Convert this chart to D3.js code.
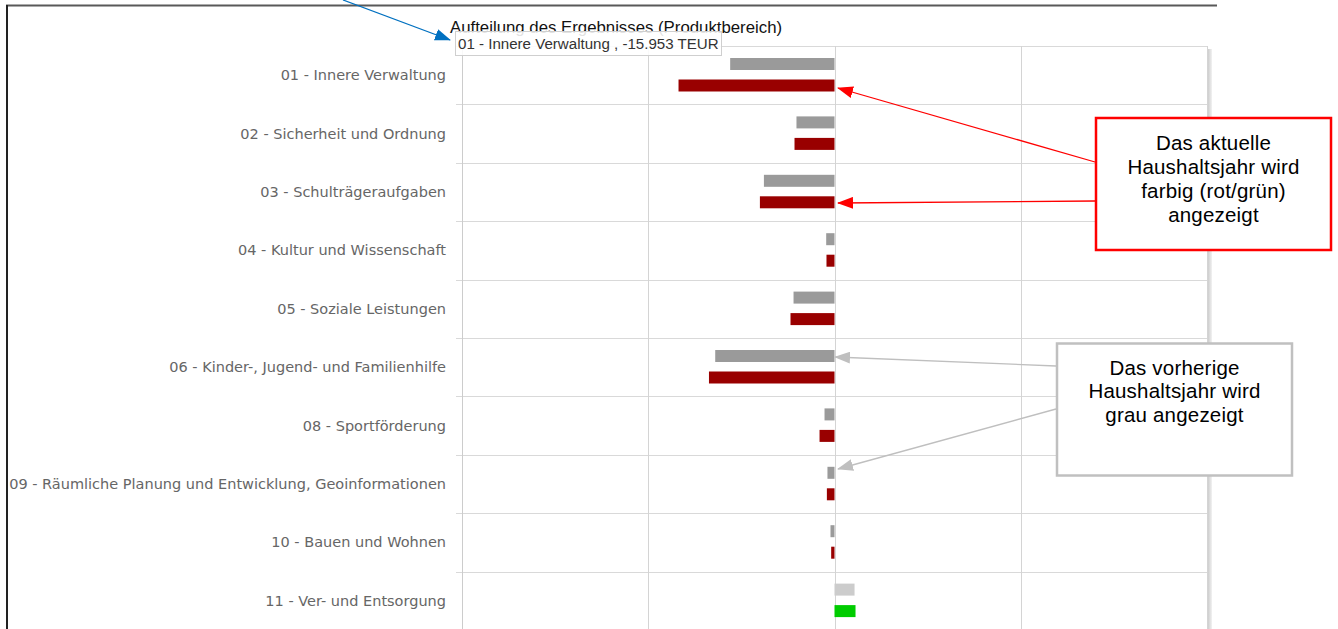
<!DOCTYPE html>
<html>
<head>
<meta charset="utf-8">
<script src="https://cdn.jsdelivr.net/npm/d3@7"></script>
<style>
    body { margin: 0; background: #fff; }
    svg { display: block; }
</style>
</head>
<body>
<div id="chart"></div>
<script>
//categories and values (EUR)
var categories = [
    "01 - Innere Verwaltung",
    "02 - Sicherheit und Ordnung",
    "03 - Schulträgeraufgaben",
    "04 - Kultur und Wissenschaft",
    "05 - Soziale Leistungen",
    "06 - Kinder-, Jugend- und Familienhilfe",
    "08 - Sportförderung",
    "09 - Räumliche Planung und Entwicklung, Geoinformationen",
    "10 - Bauen und Wohnen",
    "11 - Ver- und Entsorgung"
];
var previousYear = [-10670, -3890, -7220, -850, -4190, -12200, -1020, -720, -410, 2050];
var currentYear = [-15953, -4090, -7630, -820, -4500, -12840, -1530, -780, -340, 2150];
var xDomain = [-38100, 38100];
var gridValues = [-38100, -19050, 0, 19050, 38100];

var title = "Aufteilung des Ergebnisses (Produktbereich)";
var tooltipText = "01 - Innere Verwaltung , -15.953 TEUR";
var noteCurrent = ["Das aktuelle", "Haushaltsjahr wird", "farbig (rot/grün)", "angezeigt"];
var notePrevious = ["Das vorherige", "Haushaltsjahr wird", "grau angezeigt"];

var width = 1338, height = 629;
var plot = { left: 462, right: 1207, top: 46 };
var bandStep = 58.4;
var labelFont = "'DejaVu Sans', sans-serif";
var noteFont = "'Liberation Sans', Arial, sans-serif";

var rows = categories.map(function (c, i) {
    return { name: c, prev: previousYear[i], curr: currentYear[i] };
});

var x = d3.scaleLinear().domain(xDomain).range([plot.left, plot.right]);
var y = d3.scaleBand()
    .domain(categories)
    .range([plot.top, plot.top + bandStep * categories.length]);
var plotBottom = y.range()[1];

var svg = d3.select("#chart").append("svg")
    .attr("width", width)
    .attr("height", height);

var defs = svg.append("defs");
function arrowMarker(id, color) {
    defs.append("marker")
        .attr("id", id)
        .attr("viewBox", "0 0 16 12")
        .attr("refX", 15)
        .attr("refY", 6)
        .attr("markerUnits", "userSpaceOnUse")
        .attr("markerWidth", 16)
        .attr("markerHeight", 12)
        .attr("orient", "auto")
        .append("path")
        .attr("d", "M0,0L16,6L0,12Z")
        .attr("fill", color);
}
arrowMarker("arrow-blue", "#0070c0");
arrowMarker("arrow-red", "#ff0000");
arrowMarker("arrow-gray", "#bfbfbf");

var shadow = defs.append("linearGradient").attr("id", "shadow");
shadow.append("stop").attr("offset", "0%").attr("stop-color", "#c4c4c4");
shadow.append("stop").attr("offset", "100%").attr("stop-color", "#f2f2f2");

//outer frame of the screenshot
svg.append("line")
    .attr("x1", 6).attr("x2", 1217).attr("y1", 5.5).attr("y2", 5.5)
    .attr("stroke", "#595959").attr("stroke-width", 2);
svg.append("line")
    .attr("x1", 7).attr("x2", 7).attr("y1", 5).attr("y2", height)
    .attr("stroke", "#222").attr("stroke-width", 2);

//plot shadow and border
svg.append("rect")
    .attr("x", plot.right).attr("y", plot.top + 3)
    .attr("width", 5).attr("height", plotBottom - plot.top)
    .attr("fill", "url(#shadow)");
svg.append("rect")
    .attr("x", plot.left).attr("y", plot.top)
    .attr("width", plot.right - plot.left).attr("height", plotBottom - plot.top)
    .attr("fill", "#fff");

var g = svg.append("g");

//horizontal grid lines at the band borders
g.selectAll(".hgrid")
    .data(categories.concat(["end"]))
    .enter().append("line")
    .attr("x1", plot.left - 6)
    .attr("x2", plot.right)
    .attr("y1", function (d, i) { return Math.round(plot.top + i * bandStep) + 0.5; })
    .attr("y2", function (d, i) { return Math.round(plot.top + i * bandStep) + 0.5; })
    .attr("stroke", "#d9d9d9");

//vertical grid lines
g.selectAll(".vgrid")
    .data(gridValues)
    .enter().append("line")
    .attr("x1", function (d) { return Math.round(x(d)) + 0.5; })
    .attr("x2", function (d) { return Math.round(x(d)) + 0.5; })
    .attr("y1", plot.top)
    .attr("y2", plotBottom)
    .attr("stroke", "#d4d4d4");

//previous year bars (grey)
g.selectAll(".prev")
    .data(rows)
    .enter().append("rect")
    .attr("x", function (d) { return x(Math.min(0, d.prev)); })
    .attr("y", function (d) { return y(d.name) + 12; })
    .attr("width", function (d) { return Math.abs(x(d.prev) - x(0)); })
    .attr("height", 12)
    .attr("fill", function (d) { return d.prev < 0 ? "#9a9a9a" : "#cccccc"; });

//current year bars (red / green)
g.selectAll(".curr")
    .data(rows)
    .enter().append("rect")
    .attr("x", function (d) { return x(Math.min(0, d.curr)); })
    .attr("y", function (d) { return y(d.name) + 33.5; })
    .attr("width", function (d) { return Math.abs(x(d.curr) - x(0)); })
    .attr("height", 12)
    .attr("fill", function (d) { return d.curr < 0 ? "#990000" : "#00cc00"; });

//category axis
var yAxis = svg.append("g")
    .attr("transform", "translate(" + plot.left + ",0)")
    .call(d3.axisLeft(y).tickSize(0).tickPadding(16));
yAxis.select(".domain").attr("stroke", "#cccccc").attr("d", "M0.5," + plot.top + "V" + height);
yAxis.selectAll("text")
    .attr("dy", "0.35em")
    .style("font-family", labelFont)
    .style("font-size", "14.5px")
    .attr("fill", "#666");

//title
svg.append("text")
    .attr("x", 450)
    .attr("y", 33)
    .style("font-family", noteFont)
    .style("font-size", "16.8px")
    .attr("fill", "#111")
    .text(title);

//tooltip
svg.append("rect")
    .attr("x", 455.5).attr("y", 31.5)
    .attr("width", 266).attr("height", 24)
    .attr("fill", "#fff").attr("fill-opacity", 0.88)
    .attr("stroke", "#cfcfcf");
svg.append("text")
    .attr("x", 458)
    .attr("y", 49)
    .style("font-family", noteFont)
    .style("font-size", "15.1px")
    .attr("fill", "#333")
    .text(tooltipText);

//annotation arrows
var arrows = [
    { from: [343, 0], to: [450, 40], marker: "arrow-blue", color: "#0070c0" },
    { from: [1095, 162], to: [838, 88], marker: "arrow-red", color: "#ff0000" },
    { from: [1095, 201], to: [838, 203], marker: "arrow-red", color: "#ff0000" },
    { from: [1056, 366], to: [835, 357], marker: "arrow-gray", color: "#bfbfbf" },
    { from: [1056, 409], to: [838, 469], marker: "arrow-gray", color: "#bfbfbf" }
];
svg.selectAll(".arrow")
    .data(arrows)
    .enter().append("line")
    .attr("x1", function (d) { return d.from[0]; })
    .attr("y1", function (d) { return d.from[1]; })
    .attr("x2", function (d) { return d.to[0]; })
    .attr("y2", function (d) { return d.to[1]; })
    .attr("stroke", function (d) { return d.color; })
    .attr("stroke-width", 1.3)
    .attr("marker-end", function (d) { return "url(#" + d.marker + ")"; });

//annotation boxes
function noteBox(x0, y0, w, h, stroke, lines, firstBase, lineStep) {
    svg.append("rect")
        .attr("x", x0).attr("y", y0)
        .attr("width", w).attr("height", h)
        .attr("fill", "#fff")
        .attr("stroke", stroke)
        .attr("stroke-width", 2.5);
    svg.append("g").selectAll("text")
        .data(lines)
        .enter().append("text")
        .attr("x", x0 + w / 2)
        .attr("y", function (d, i) { return firstBase + i * lineStep; })
        .attr("text-anchor", "middle")
        .style("font-family", noteFont)
        .style("font-size", "20.5px")
        .style("letter-spacing", "0.2px")
        .attr("fill", "#000")
        .text(function (d) { return d; });
}
noteBox(1096, 118, 235, 132, "#ff0000", noteCurrent, 149.5, 24.2);
noteBox(1057, 343.5, 235, 132, "#c0c0c0", notePrevious, 374.5, 23.7);
</script>
</body>
</html>
